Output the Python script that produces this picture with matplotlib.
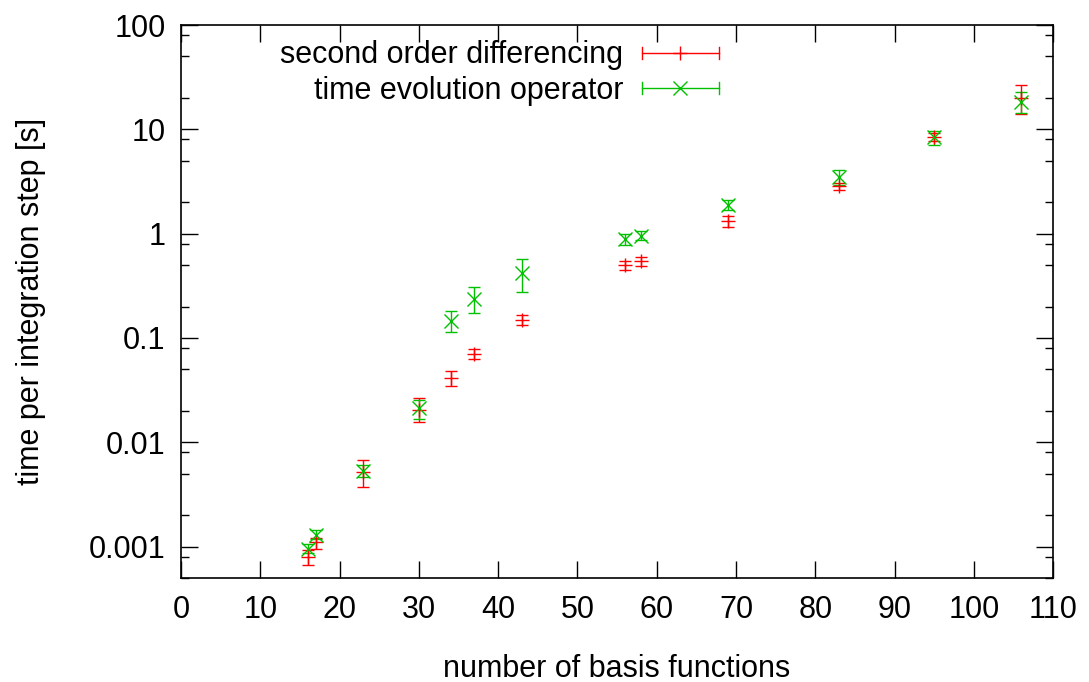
import numpy as np
import matplotlib
matplotlib.use("Agg")
from matplotlib import pyplot as plt
from matplotlib.lines import Line2D
from matplotlib.legend_handler import HandlerBase
from matplotlib.ticker import FixedLocator, NullFormatter, FuncFormatter

plt.rcParams['font.family'] = ['Liberation Sans', 'DejaVu Sans']
plt.rcParams['font.size'] = 22

# number of basis functions
basis = [16, 17, 23, 30, 34, 37, 43, 56, 58, 69, 83, 95, 106]

# second order differencing: time per step, lower and upper bounds [s]
sod_time = [0.00079, 0.0011, 0.0052, 0.0205, 0.041, 0.0706, 0.149, 0.50, 0.55, 1.31, 2.85, 8.4, 20.0]
sod_low  = [0.00067, 0.00094, 0.0037, 0.0158, 0.035, 0.063, 0.134, 0.45, 0.485, 1.16, 2.6, 7.7, 14.1]
sod_high = [0.00092, 0.0012, 0.0068, 0.0266, 0.0485, 0.0786, 0.167, 0.55, 0.60, 1.48, 3.05, 9.2, 26.6]

# time evolution operator: time per step, lower and upper bounds [s]
teo_time = [0.00095, 0.0013, 0.0053, 0.0213, 0.147, 0.237, 0.424, 0.886, 0.953, 1.89, 3.52, 8.4, 18.4]
teo_low  = [0.00087, 0.00117, 0.0046, 0.0168, 0.113, 0.173, 0.273, 0.77, 0.86, 1.7, 2.9, 7.1, 14.5]
teo_high = [0.00107, 0.00145, 0.0060, 0.0252, 0.183, 0.311, 0.57, 1.0, 1.06, 2.1, 4.1, 9.6, 22.7]

RED = "#ff0000"
GREEN = "#00c000"


def yerr(v, lo, hi):
    v = np.array(v)
    return [v - np.array(lo), np.array(hi) - v]


# gnuplot style key sample: horizontal bar with end caps and the point marker
class HandlerHBar(HandlerBase):
    def create_artists(self, legend, orig_handle, xdescent, ydescent,
                       width, height, fontsize, trans):
        y = (height - ydescent) / 2
        x0, x1 = -xdescent, width - xdescent
        c = orig_handle.get_color()
        cap = 4.3
        arts = [Line2D([x0, x1], [y, y], color=c, lw=1),
                Line2D([x0, x0], [y - cap, y + cap], color=c, lw=1),
                Line2D([x1, x1], [y - cap, y + cap], color=c, lw=1),
                Line2D([(x0 + x1) / 2], [y], color=c, lw=0,
                       marker=orig_handle.get_marker(), markersize=10, mew=1)]
        for a in arts:
            a.set_transform(trans)
        return arts


fig = plt.figure(figsize=(10.89, 6.82), dpi=100)
ax = fig.add_axes([0.1662, 0.1525, 0.8008, 0.8108])

ax.errorbar(basis, sod_time, yerr=yerr(sod_time, sod_low, sod_high),
            fmt='+', color=RED, ms=10, mew=1, elinewidth=1, capsize=4.3, capthick=1)
ax.errorbar(basis, teo_time, yerr=yerr(teo_time, teo_low, teo_high),
            fmt='x', color=GREEN, ms=10, mew=1, elinewidth=1, capsize=4.3, capthick=1)

ax.set_yscale('log')
ax.set_xlim(0, 110)
ax.set_ylim(0.0005, 100)
ax.set_xticks(np.arange(0, 111, 10))
ax.yaxis.set_major_locator(FixedLocator([0.001, 0.01, 0.1, 1, 10, 100]))
ax.yaxis.set_major_formatter(FuncFormatter(lambda v, p: f"{v:g}"))
minors = [m * 10.0 ** k for k in range(-4, 2) for m in (2, 5, 8)]
ax.yaxis.set_minor_locator(FixedLocator(minors))
ax.yaxis.set_minor_formatter(NullFormatter())
ax.tick_params(which='both', direction='in', top=True, right=True, width=1)
ax.tick_params(which='major', length=12)
ax.tick_params(which='minor', length=6)
ax.tick_params(axis='x', which='major', pad=12)
ax.tick_params(axis='y', which='major', pad=11)
for s in ax.spines.values():
    s.set_linewidth(1.2)

ax.set_xlabel("number of basis functions", labelpad=21)
ax.set_ylabel("time per integration step [s]", labelpad=31)

handles = [Line2D([], [], color=RED, marker='+'),
           Line2D([], [], color=GREEN, marker='x')]
ax.legend(handles, ["second order differencing", "time evolution operator"],
          handler_map={Line2D: HandlerHBar()}, markerfirst=False, frameon=False,
          loc='upper right', bbox_to_anchor=(0.634, 1.0), borderpad=0,
          handlelength=2.5, handletextpad=0.62, labelspacing=0.18)

fig.savefig("out.png", dpi=100)
